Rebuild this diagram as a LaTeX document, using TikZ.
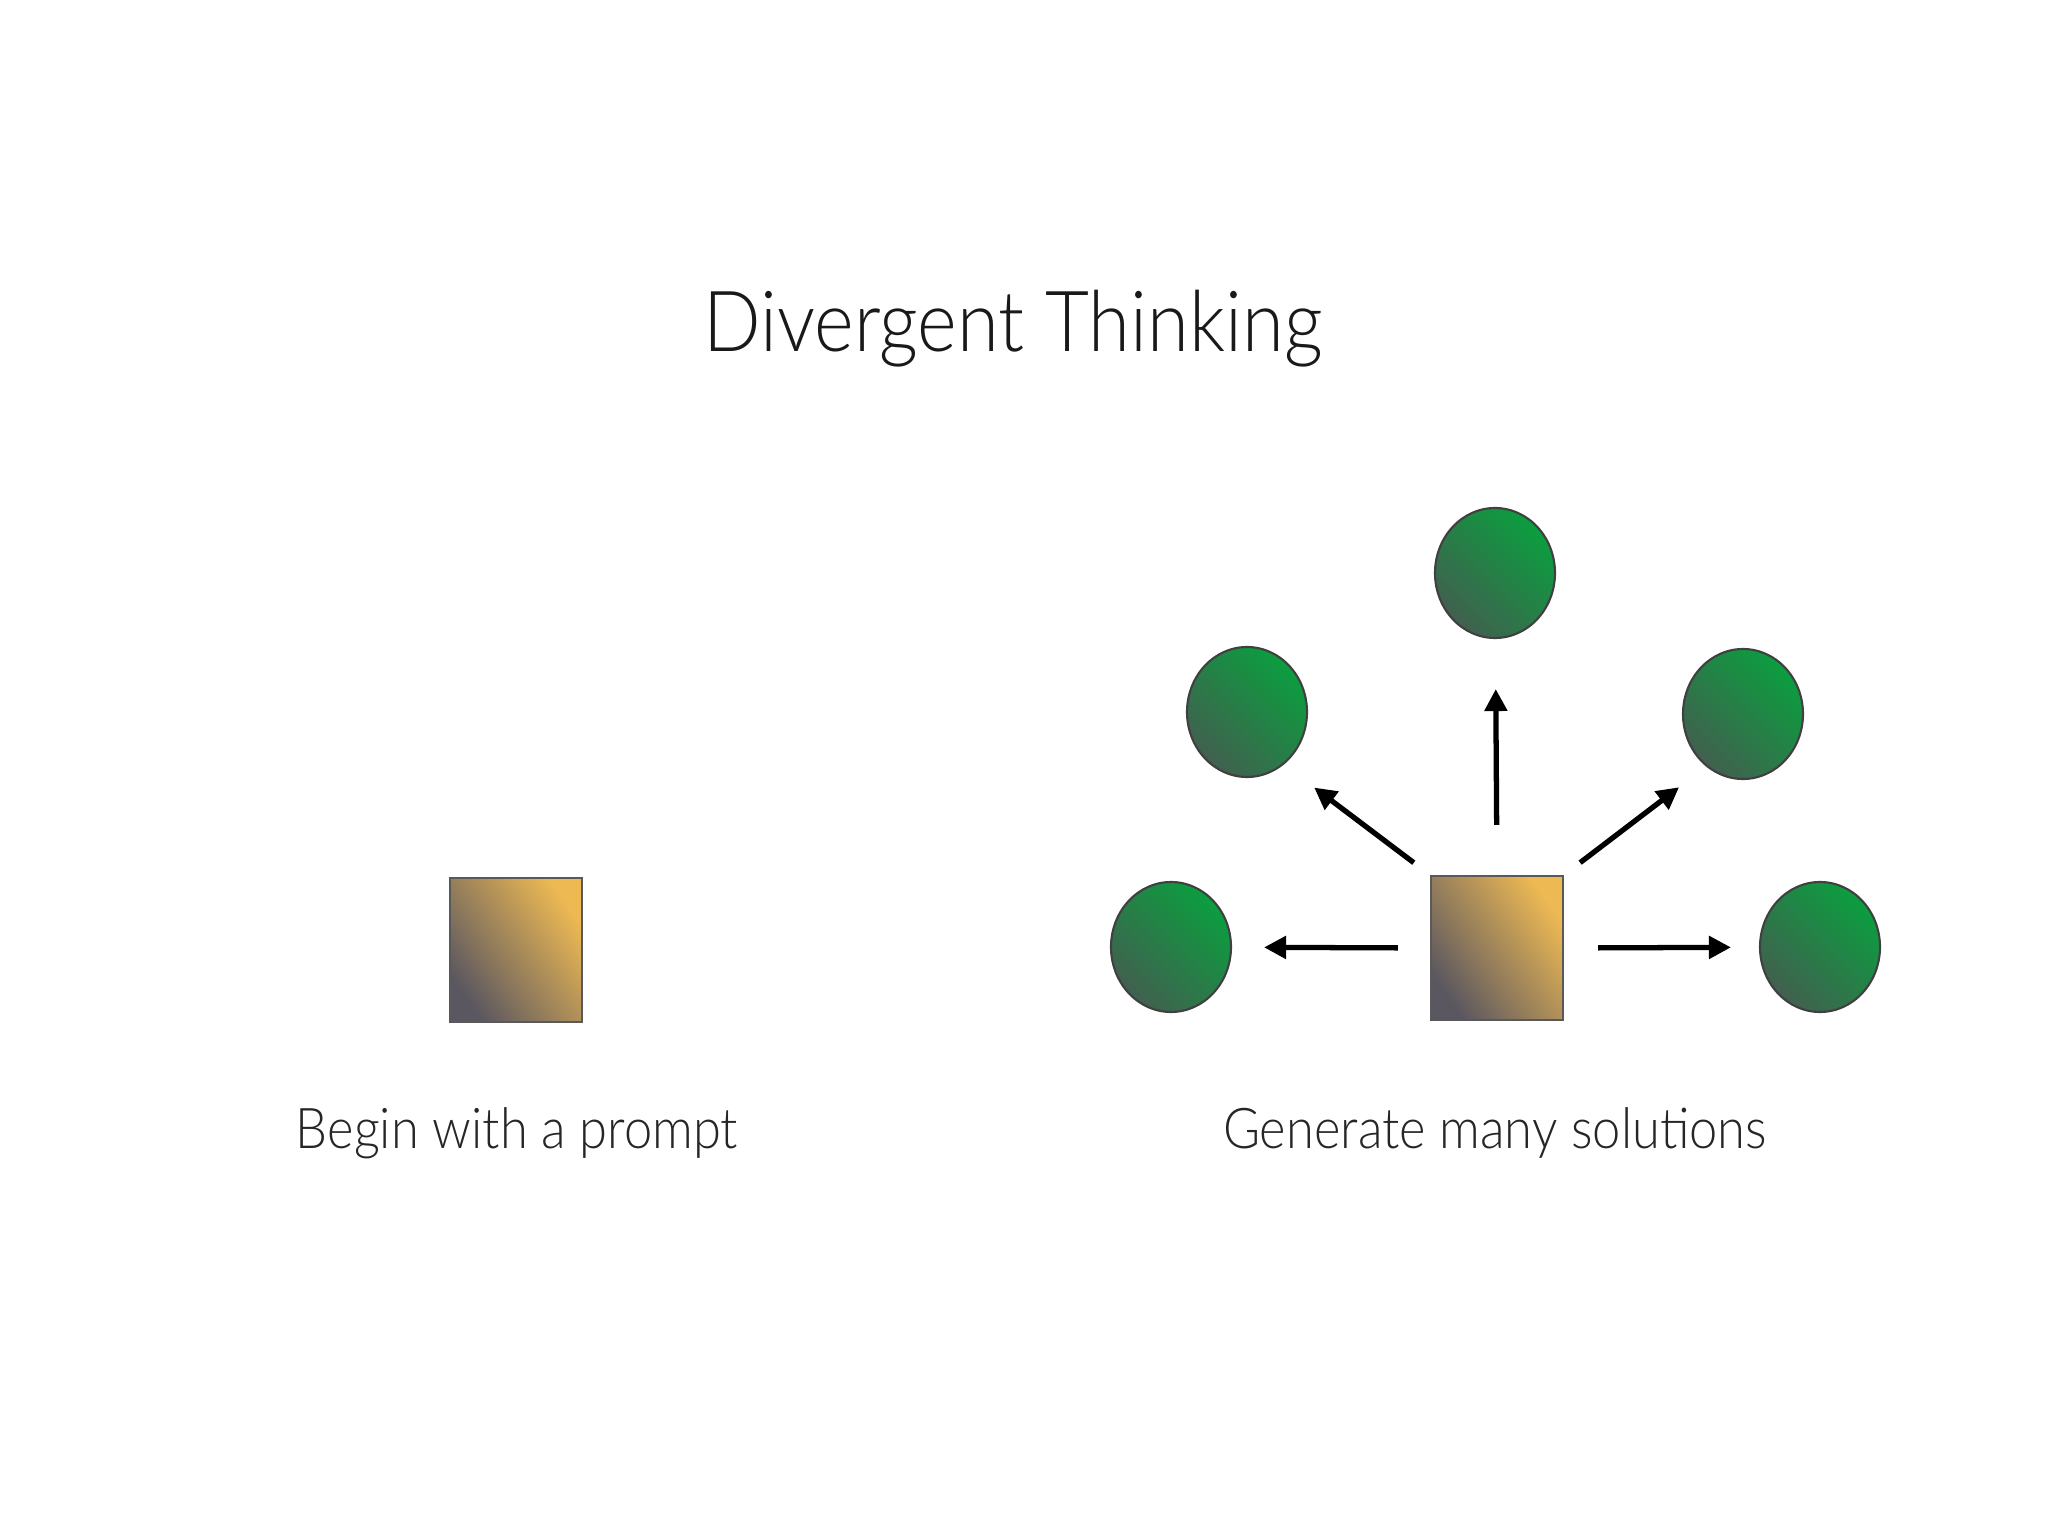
\documentclass[tikz,border=0pt]{standalone}
\usepackage{fontspec}
\setmainfont{Lato}[UprightFont={* Light}, FakeStretch=0.9]
\usetikzlibrary{arrows.meta,shapes.geometric}
\definecolor{gold}{HTML}{EDB953}
\definecolor{slate}{HTML}{5B5760}
\definecolor{leaf}{HTML}{0B9E3F}
\definecolor{moss}{HTML}{41604F}
\tikzset{
  prompt/.style={draw=black!65, line width=0.7pt, minimum width=1.32cm,
                 minimum height=1.44cm, inner sep=0pt,
                 top color=gold, bottom color=slate, shading angle=-55},
  idea/.style={ellipse, draw=black!75, line width=0.6pt, minimum width=1.2cm,
               minimum height=1.3cm, inner sep=0pt,
               top color=leaf, bottom color=moss, shading angle=-45},
  fan/.style={-{Triangle[length=2.2mm,width=2.2mm]}, line width=1.5pt},
  caption/.style={anchor=base, font=\fontsize{16}{19}\selectfont, text=black!85},
}

\begin{document}
\begin{tikzpicture}
\useasboundingbox (0,0) rectangle (20.48,-15.36);

\node[anchor=base, font=\fontsize{24}{29}\selectfont, text=black!90] (title)
  at (10.13,-3.52) {Divergent Thinking};

% left: the prompt on its own
\node[prompt] (seed) at (5.16,-9.50) {};
\node[caption] (seedlab) at (5.17,-11.48) {Begin with a prompt};

% right: the prompt and what comes out of it
\node[prompt] (hub) at (14.97,-9.48) {};
\foreach \n/\x/\y in {1/11.71/-9.47, 2/12.47/-7.12, 3/14.95/-5.73,
                      4/17.43/-7.14, 5/18.20/-9.47} {
    \node[idea] (c\n) at (\x,\y) {};
}
\foreach \from/\to/\s/\e in {west/1/0.32/0.32, north west/2.305/0.2/0.38,
                             north/3/0.50/0.50, north east/4.235/0.2/0.34,
                             east/5/0.34/0.28} {
    \draw[fan, shorten <=\s cm, shorten >=\e cm] (hub.\from) -- (c\to);
}
\node[caption] (hublab) at (14.95,-11.48) {Generate many solutions};

\end{tikzpicture}
\end{document}
